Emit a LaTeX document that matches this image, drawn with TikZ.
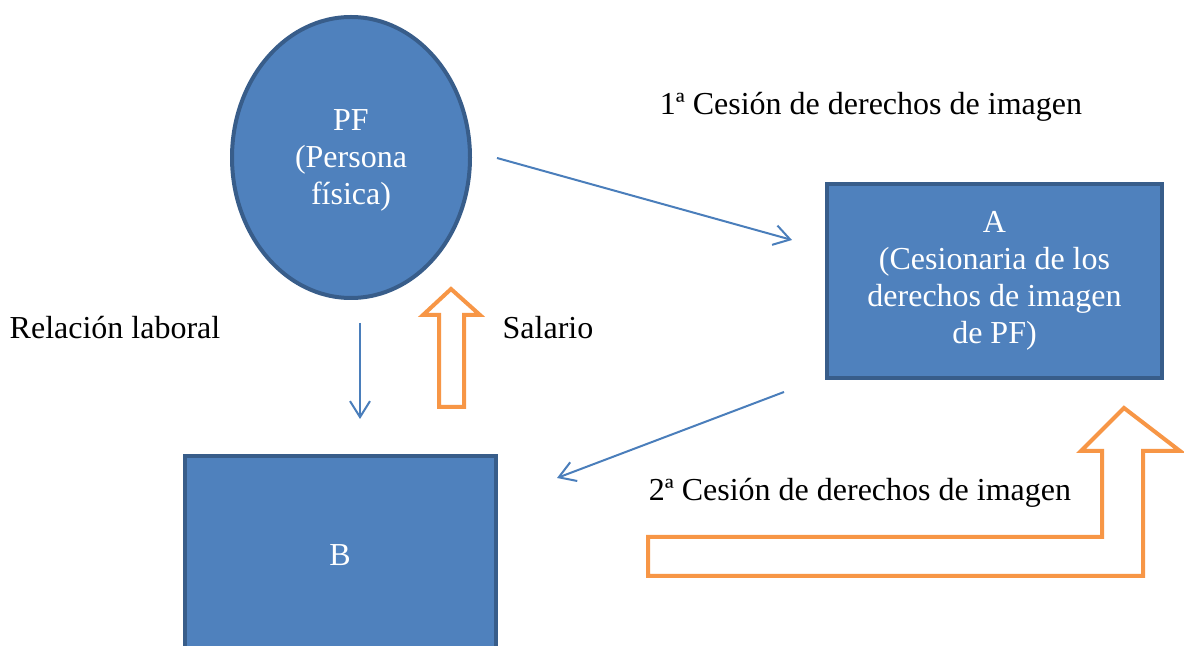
\documentclass[tikz,border=0pt]{standalone}
\usepackage{fontspec}
\setmainfont{Liberation Serif}
\usetikzlibrary{shapes.geometric,arrows.meta}
\definecolor{boxblue}{HTML}{4F81BD}
\definecolor{boxedge}{HTML}{385D8A}
\definecolor{linkblue}{HTML}{4A7EBB}
\definecolor{flowo}{HTML}{F79646}
\tikzset{
  caption/.style={font=\fontsize{16}{18.5}\selectfont,align=center,inner sep=0pt},
  entity/.style={caption,fill=boxblue,draw=boxedge,line width=2pt,text=white},
  link/.style={draw=linkblue,line width=1pt,-{Straight Barb[length=8pt,width=10pt]}},
  flow/.style={draw=flowo,line width=2pt,fill=white,line join=miter}
}
\begin{document}
\begin{tikzpicture}[x=0.5pt,y=-0.5pt]
\clip (0,0) rectangle (1184,646);
% persona fisica
\node[entity,ellipse,minimum width=119pt,minimum height=140.5pt] (pf) at (351,157.5) {};
\node[caption,text=white] (pftext) at (351,160) {PF\\(Persona\\física)};
% cesionaria A
\node[entity,minimum width=167.5pt,minimum height=97pt] (a) at (994.5,281)
  {A\\(Cesionaria de los\\derechos de imagen\\de PF)};
% empresa B
\node[entity,minimum width=155.5pt,minimum height=112pt] (b) at (340.5,568) {};
\node[caption,text=white] (btext) at (340,555) {B};
% labels
\node[caption] (cesion1) at (871,107) {1ª Cesión de derechos de imagen};
\node[caption] (relacion) at (115,328) {Relación laboral};
\node[caption] (salario) at (548,328) {Salario};
\node[caption] (cesion2) at (860,493) {2ª Cesión de derechos de imagen};
% blue arrows
\coordinate (c1from) at (497,158);
\coordinate (c1to) at (792,240);
\coordinate (c2from) at (784,392);
\coordinate (c2to) at (557,478);
\coordinate (relfrom) at (360,323);
\coordinate (relto) at (360,419);
\draw[link] (c1from) -- (c1to);
\draw[link] (c2from) -- (c2to);
\draw[link] (relfrom) -- (relto);
% orange block arrows
\draw[flow] (451,289) -- (480,315) -- (464,315) -- (464,407) -- (439,407)
  -- (439,315) -- (423,315) -- cycle;
\draw[flow] (1124,408) -- (1180,451) -- (1143,451) -- (1143,576) -- (648,576)
  -- (648,537) -- (1102,537) -- (1102,451) -- (1081,451) -- cycle;
\end{tikzpicture}
\end{document}
